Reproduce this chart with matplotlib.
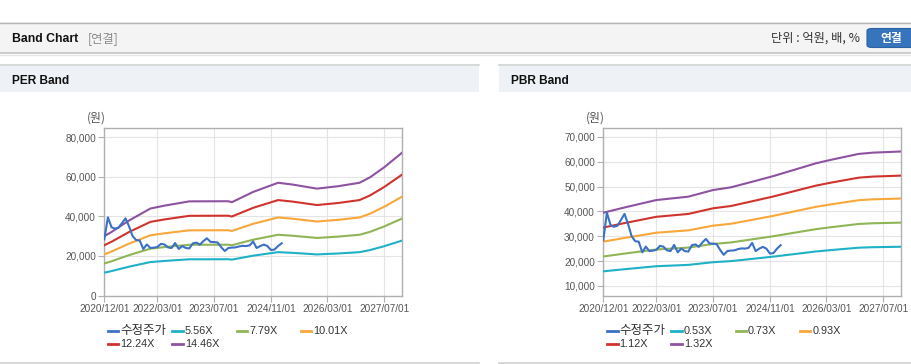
import matplotlib
matplotlib.use("Agg")
import matplotlib.pyplot as plt
import matplotlib.dates as mdates
from matplotlib.lines import Line2D
from matplotlib.patches import Rectangle, FancyBboxPatch
from matplotlib.ticker import FuncFormatter
import numpy as np
import pandas as pd

W, H = 912, 364

# ---- data ----
price_start = "2020-12-01"
price = [28400, 39500, 34500, 33800, 34200, 36500, 39000, 35000, 30000, 28000,
         27800, 23500, 25800, 24000, 24200, 24500, 26100, 25800, 24300, 24000,
         26500, 23500, 25000, 24000, 23800, 26400, 26700, 25700, 27500, 28900,
         27100, 27000, 26800, 24400, 22500, 24000, 24200, 24300, 24800, 25100,
         25000, 25300, 27300, 24000, 25000, 25700, 25000, 23000, 23200, 25000,
         26400]

per_dates = ["2020-12-01", "2021-02-01", "2021-07-01", "2022-01-01", "2022-05-01",
             "2022-12-01", "2023-11-01", "2023-12-01", "2024-06-01", "2025-01-01",
             "2025-05-01", "2025-12-01", "2026-06-01", "2026-12-01", "2027-03-01",
             "2027-07-01", "2027-12-01"]
eps = [2075, 2220, 2620, 3040, 3140, 3290, 3295, 3260, 3620, 3940,
       3880, 3735, 3820, 3940, 4130, 4480, 4990]
per_mult = [5.56, 7.79, 10.01, 12.24, 14.46]

pbr_dates = ["2020-12-01", "2021-06-01", "2022-03-01", "2022-12-01", "2023-07-01",
             "2023-12-01", "2024-06-01", "2024-12-01", "2025-12-01", "2026-04-01",
             "2026-12-01", "2027-04-01", "2027-12-01"]
bps = [29900, 31500, 33770, 34800, 36830, 37650, 39360, 41100, 45000, 46000,
       47850, 48240, 48600]
pbr_mult = [0.53, 0.73, 0.93, 1.12, 1.32]

x_ticks = ["2020/12/01", "2022/03/01", "2023/07/01", "2024/11/01", "2026/03/01", "2027/07/01"]

price_color = "#3b70c6"
band_colors = ["#1fb1c6", "#8fb556", "#f8a73a", "#d0332e", "#8e53a0"]

KR = ["Noto Sans CJK KR", "DejaVu Sans"]
LAT = ["Liberation Sans", "Noto Sans CJK KR"]


def fx(x):
    return x / W


def fy(y):
    return 1 - y / H


fig = plt.figure(figsize=(W / 100, H / 100), dpi=100)
fig.patch.set_facecolor("white")


def rect(x0, y0, x1, y1, color, z=0):
    fig.add_artist(Rectangle((fx(x0), fy(y1)), fx(x1 - x0), (y1 - y0) / H,
                             transform=fig.transFigure, facecolor=color,
                             edgecolor="none", zorder=z))


def hline(x0, x1, y, color, lw=1.0):
    fig.add_artist(Line2D([fx(x0), fx(x1)], [fy(y), fy(y)], transform=fig.transFigure,
                          color=color, lw=lw, zorder=1))


# top header bar
rect(0, 22, W, 53, "#f4f4f4")
hline(0, W, 22.5, "#b4b4b4")
hline(0, W, 53, "#c4c4c4", 1.2)
hline(0, W, 54.5, "#e6e6e6", 1.0)
fig.text(fx(12), fy(39.5), "Band Chart", family=LAT, weight="bold", size=8.8,
         va="center", ha="left", color="#111")
fig.text(fx(88), fy(38.5), "[연결]", family=KR, size=8.8, va="center", ha="left", color="#8a8a8a")
fig.text(fx(860), fy(38.5), "단위 : 억원, 배, %", family=KR, size=8.8, va="center", ha="right",
         color="#333")
fig.add_artist(FancyBboxPatch((fx(867), fy(47.5)), fx(60), 19 / H,
                              boxstyle="round,pad=0,rounding_size=0.006",
                              transform=fig.transFigure, facecolor="#3674bb",
                              edgecolor="#2c62a3", lw=0.8, zorder=2))
fig.text(fx(891), fy(38.5), "연결", family=KR, weight="bold", size=8.5, va="center",
         ha="center", color="white", zorder=3)

# panels
for (p0, p1, title) in [(0, 479, "PER Band"), (499, W, "PBR Band")]:
    rect(p0, 64, p1, 92, "#eef2f7")
    hline(p0, p1, 64.5, "#d4d4d4", 1.2)
    hline(p0, p1, 362.5, "#d0d0d0", 1.2)
    fig.text(fx(p0 + 12), fy(81), title, family=LAT, weight="bold", size=8.6,
             va="center", ha="left", color="#111")


def band_panel(left, right, ylim, yticks, dates, base, mults, labels, leg_x):
    ax = fig.add_axes([fx(left), fy(295.5), fx(right - left), (295.5 - 128.3) / H])
    ax.set_facecolor("white")
    d = pd.to_datetime(dates)
    for m, c in zip(mults, band_colors):
        ax.plot(d, np.array(base) * m, color=c, lw=1.5, zorder=3)
    pd_dates = pd.date_range(price_start, periods=len(price), freq="MS")
    ax.plot(pd_dates, price, color=price_color, lw=1.5, zorder=4)

    ax.set_xlim(pd.Timestamp("2020-12-01"), pd.Timestamp("2027-12-01"))
    ax.set_ylim(*ylim)
    ax.set_xticks(pd.to_datetime([t.replace("/", "-") for t in x_ticks]))
    ax.xaxis.set_major_formatter(mdates.DateFormatter("%Y/%m/%d"))
    ax.set_yticks(yticks)
    ax.yaxis.set_major_formatter(FuncFormatter(lambda v, p: f"{int(v):,}"))
    ax.grid(True, color="#e4e4e4", lw=0.8, zorder=0)
    ax.set_axisbelow(True)
    for s in ax.spines.values():
        s.set_color("#b0b0b0")
        s.set_linewidth(1.0)
    ax.tick_params(axis="both", length=4, width=0.8, color="#b0b0b0",
                   labelcolor="#555", labelsize=7.2, pad=2)
    for lbl in ax.get_xticklabels() + ax.get_yticklabels():
        lbl.set_family(LAT)
    fig.text(fx(left - 17), fy(118), "(원)", family=KR, size=8.6, ha="left", va="center",
             color="#555")

    # legend
    names = ["수정주가"] + labels
    colors = [price_color] + band_colors
    for i, (n, c) in enumerate(zip(names, colors)):
        row, col = divmod(i, 4)
        x0 = leg_x + col * 64.3
        y0 = 330.5 + row * 13.3
        fig.add_artist(Line2D([fx(x0), fx(x0 + 10.5)], [fy(y0), fy(y0)],
                              transform=fig.transFigure, color=c, lw=2))
        fig.text(fx(x0 + 12.5), fy(y0), n, family=LAT if i else KR,
                 size=7.8 if i else 9.0, ha="left", va="center", color="#333")
    return ax


band_panel(104.3, 402, (0, 84500), [0, 20000, 40000, 60000, 80000], per_dates, eps,
           per_mult, ["5.56X", "7.79X", "10.01X", "12.24X", "14.46X"], 108)
band_panel(603.3, 901, (6100, 73500), list(range(10000, 70001, 10000)), pbr_dates, bps,
           pbr_mult, ["0.53X", "0.73X", "0.93X", "1.12X", "1.32X"], 607)

fig.savefig("out.png", dpi=100)
